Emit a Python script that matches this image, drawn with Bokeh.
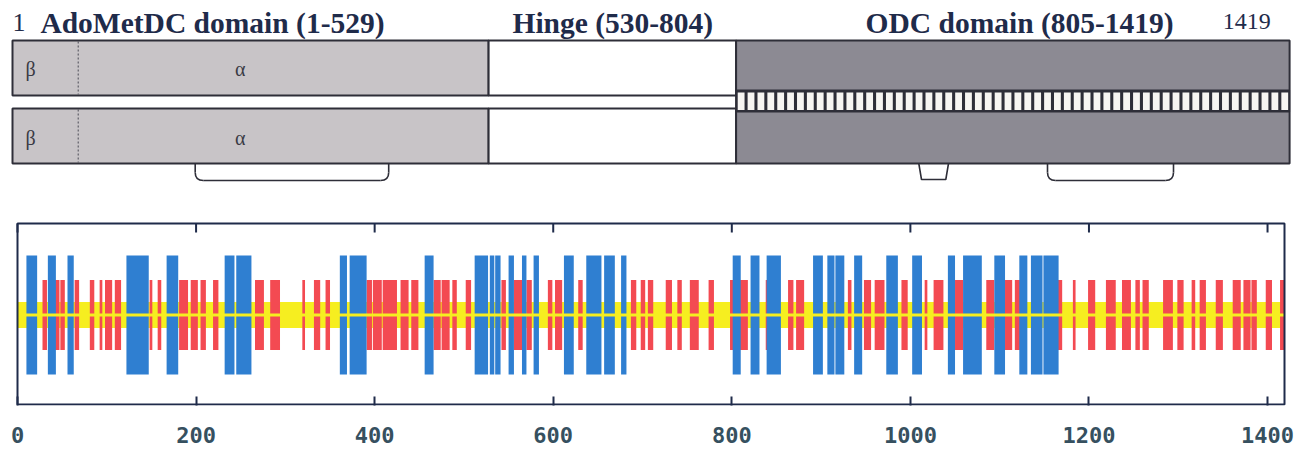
from bokeh.plotting import figure
from bokeh.models import Range1d, LinearAxis, FixedTicker
from bokeh.core.properties import value
from bokeh.embed import file_html
from bokeh.resources import INLINE

# ---------------- data ----------------
SEQ_LEN = 1419
domain_labels = ["AdoMetDC domain (1-529)", "Hinge (530-804)", "ODC domain (805-1419)"]
domain_start = [1, 530, 805]
domain_end = [529, 804, 1419]
beta_alpha_split = 73          # end of the beta subunit of AdoMetDC
bracket_start = [203, 1007, 1150]
bracket_end = [418, 1040, 1290]
bracket_slant = [0, 3, 0]

helix_start = [11, 35, 57, 123, 168, 233, 246, 362, 373, 457, 513, 530, 536, 551, 566,
               579, 613, 638, 658, 677, 802, 822, 840, 892, 908, 917, 938, 974, 1003,
               1043, 1060, 1095, 1123, 1136, 1150]
helix_end = [22, 43, 63, 147, 180, 243, 262, 369, 391, 466, 527, 534, 541, 556, 570,
             584, 623, 654, 669, 682, 810, 831, 855, 902, 915, 926, 946, 986, 1013,
             1050, 1080, 1106, 1131, 1148, 1166]

strand_start = [29, 43, 49, 65, 82, 93, 99, 110, 149, 158, 182, 195, 206, 220, 267, 284,
                320, 333, 346, 392, 399, 410, 430, 442, 467, 476, 488, 503, 543, 557, 571,
                595, 603, 629, 688, 699, 707, 727, 740, 754, 775, 799, 810, 839, 864, 873,
                931, 949, 961, 991, 1017, 1027, 1051, 1086, 1107, 1118, 1166, 1183, 1200,
                1220, 1238, 1253, 1261, 1284, 1300, 1316, 1325, 1343, 1362, 1374, 1383,
                1399, 1415]
strand_end = [33, 47, 53, 69, 86, 95, 106, 116, 151, 161, 191, 202, 211, 225, 276, 294,
              322, 339, 350, 397, 408, 425, 438, 449, 474, 484, 492, 508, 547, 567, 576,
              599, 610, 633, 693, 703, 712, 733, 744, 763, 780, 804, 818, 842, 869, 881,
              934, 956, 971, 997, 1019, 1037, 1059, 1094, 1114, 1125, 1170, 1185, 1207,
              1230, 1247, 1257, 1267, 1294, 1306, 1319, 1331, 1350, 1370, 1381, 1388,
              1405, 1419]

tick_positions = [0, 200, 400, 600, 800, 1000, 1200, 1400]

# ---------------- styles / layout ----------------
NAVY = "#1f2b4a"
EDGE = "#2e2e38"
LIGHT = "#c8c4c7"
DARK = "#8c8a93"
BLUE = "#2f7fd1"
RED = "#f34a52"
YELLOW = "#f6ee20"
SERIF = value("Liberation Serif")

W, H = 1298, 453
# schematic: residue 0 at x=12, 0.9 px per residue
S_X0, S_K = 12.0, 0.9
# secondary-structure track frame from x=17 to x=1284
T_X0, T_X1 = 17.0, 1284.0
T_K = (T_X1 - T_X0) / SEQ_LEN
T_TOP, T_BOT, T_MID = 223, 405, 314.5

p = figure(width=W, height=H,
           x_range=Range1d(-S_X0 / S_K, (W - S_X0) / S_K),
           y_range=Range1d(T_BOT, 0),
           x_axis_location=None, y_axis_location=None,
           min_border_left=0, min_border_right=0, min_border_top=0, min_border_bottom=H - T_BOT,
           output_backend="svg", toolbar_location=None)
p.extra_x_ranges = {"ss": Range1d(-T_X0 / T_K, (W - T_X0) / T_K)}
p.grid.visible = False
p.outline_line_color = None

# ---------------- top schematic ----------------
ado_l, ado_r = domain_start[0] - 1, domain_end[0]
hin_l, hin_r = domain_start[1] - 1, domain_end[1]
odc_l, odc_r = domain_start[2] - 1, domain_end[2]

p.quad(left=[ado_l, ado_l], right=[ado_r, ado_r], top=[40, 108], bottom=[95, 163],
       fill_color=LIGHT, line_color=EDGE, line_width=2)
p.quad(left=[hin_l, hin_l], right=[hin_r, hin_r], top=[40, 108], bottom=[95, 163],
       fill_color="white", line_color=EDGE, line_width=2)
p.quad(left=[odc_l], right=[odc_r], top=[40], bottom=[163],
       fill_color=DARK, line_color=EDGE, line_width=2)
p.quad(left=[odc_l], right=[odc_r], top=[89.5], bottom=[111.5],
       fill_color=EDGE, line_color=EDGE, line_width=1)
n_cells = 56
cw = (odc_r - odc_l) / n_cells
p.quad(left=[odc_l + i * cw + 1.8 for i in range(n_cells)],
       right=[odc_l + i * cw + cw - 1.6 for i in range(n_cells)],
       top=[92] * n_cells, bottom=[109.5] * n_cells,
       fill_color="#f7f5f2", line_color=None)

p.segment(x0=[beta_alpha_split] * 2, x1=[beta_alpha_split] * 2, y0=[41, 109], y1=[94, 162],
          line_color="#4a4a55", line_width=1, line_dash="2 2")
p.text(x=[20, 20], y=[68, 137], text=["β", "β"], text_font=SERIF, text_font_size="20px",
       text_color="#3a3a44", text_align="center", text_baseline="middle")
p.text(x=[253, 253], y=[68, 137], text=["α", "α"], text_font=SERIF, text_font_size="20px",
       text_color="#3a3a44", text_align="center", text_baseline="middle")

r = 9.0
for b0, b1, sl in zip(bracket_start, bracket_end, bracket_slant):
    if sl:
        p.line([b0, b0 + sl, b1 - sl, b1], [163, 179, 179, 163], line_color=EDGE, line_width=1.6)
    else:
        p.multi_line(xs=[[b0, b0], [b0 + r, b1 - r], [b1, b1]],
                     ys=[[163, 172], [180, 180], [172, 163]],
                     line_color=EDGE, line_width=1.6)
        p.quadratic(x0=[b0, b1], y0=[172, 172], x1=[b0 + r, b1 - r], y1=[180, 180],
                    cx=[b0, b1], cy=[180, 180], line_color=EDGE, line_width=1.6)

LBL_Y = 22
p.text(x=[0], y=[LBL_Y], text=["1"], text_font=SERIF, text_font_size="26px",
       text_color=NAVY, text_align="left", text_baseline="alphabetic")
p.text(x=[31], y=[LBL_Y], text=[domain_labels[0]], text_font=SERIF, text_font_size="29.5px",
       text_font_style="bold", text_color=NAVY, text_align="left", text_baseline="alphabetic")
p.text(x=[(domain_start[1] + domain_end[1]) / 2, (domain_start[2] + domain_end[2]) / 2 + 7],
       y=[LBL_Y, LBL_Y], text=domain_labels[1:], text_font=SERIF, text_font_size="29.5px",
       text_font_style="bold", text_color=NAVY, text_align="center", text_baseline="alphabetic")
p.text(x=[1398], y=[LBL_Y - 1], text=[str(SEQ_LEN)], text_font=SERIF, text_font_size="24px",
       text_color=NAVY, text_align="right", text_baseline="alphabetic")

# ---------------- secondary structure track ----------------
p.quad(left=[0], right=[SEQ_LEN], bottom=[T_MID - 13], top=[T_MID + 13],
       fill_color=YELLOW, line_color=None, x_range_name="ss")
p.quad(left=[s - 1 for s in strand_start], right=strand_end, bottom=T_MID - 35, top=T_MID + 35,
       fill_color=RED, line_color=None, x_range_name="ss")
p.quad(left=[s - 1 for s in helix_start], right=helix_end, bottom=T_MID - 59.5, top=T_MID + 59.5,
       fill_color=BLUE, line_color=None, x_range_name="ss")
p.quad(left=[0], right=[SEQ_LEN], bottom=[T_MID - 1.5], top=[T_MID + 1.5],
       fill_color=YELLOW, line_color=None, x_range_name="ss")

# frame and top ticks
p.quad(left=[0], right=[SEQ_LEN], top=[T_TOP], bottom=[T_BOT - 1], fill_color=None,
       line_color=NAVY, line_width=2, x_range_name="ss")
p.segment(x0=tick_positions, x1=tick_positions, y0=[T_TOP] * len(tick_positions),
          y1=[T_TOP + 9] * len(tick_positions), line_color=NAVY, line_width=2, x_range_name="ss")

xa = LinearAxis(x_range_name="ss", ticker=FixedTicker(ticks=tick_positions))
xa.axis_line_color = None
xa.major_tick_in = 9
xa.major_tick_out = 0
xa.major_tick_line_color = NAVY
xa.major_tick_line_width = 2
xa.minor_tick_line_color = None
xa.major_label_standoff = 21
xa.major_label_text_font = "DejaVu Sans Mono"
xa.major_label_text_font_size = "22px"
xa.major_label_text_font_style = "bold"
xa.major_label_text_color = "#36505f"
p.add_layout(xa, "below")

open("out.html", "w").write(file_html(p, INLINE))
